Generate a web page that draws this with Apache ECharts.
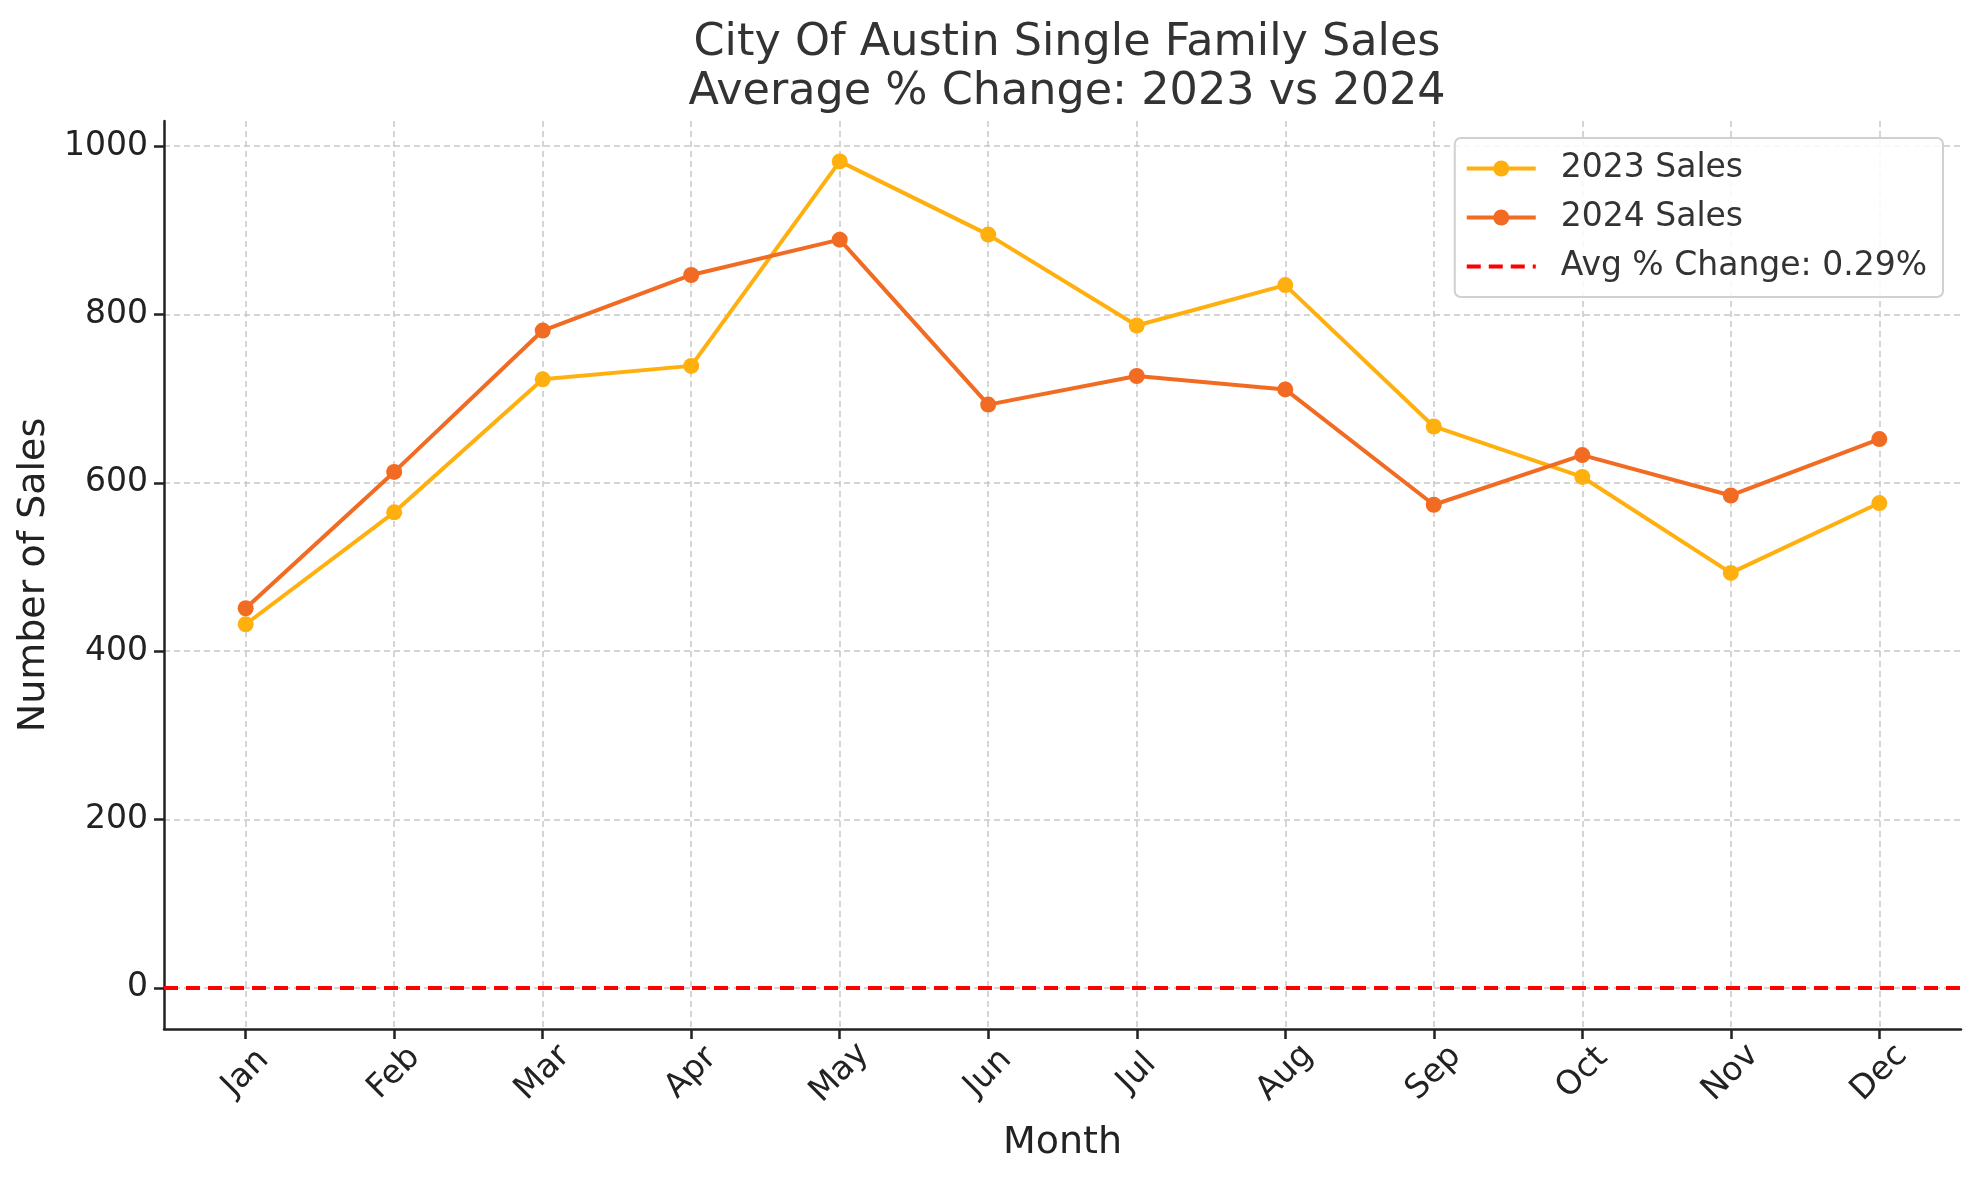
<!DOCTYPE html>
<html>
<head>
<meta charset="utf-8">
<script src="https://cdn.jsdelivr.net/npm/echarts@6/dist/echarts.min.js"></script>
<style>
html,body{margin:0;padding:0;background:#fff;}
#chart{width:1979px;height:1180px;}
</style>
</head>
<body>
<div id="chart"></div>
<script>
const months = ['Jan','Feb','Mar','Apr','May','Jun','Jul','Aug','Sep','Oct','Nov','Dec'];
const sales2023 = [432, 565, 723, 739, 982, 895, 787, 835, 667, 607, 493, 576];
const sales2024 = [451, 613, 781, 847, 889, 693, 727, 711, 574, 633, 585, 652];
const avgChange = 0.29;
const yTicks = [0, 200, 400, 600, 800, 1000];

const font = 'DejaVu Sans';
const c2023 = '#FFB00F';
const c2024 = '#F26B22';
const cAvg = '#FF0000';
const chart = echarts.init(document.getElementById('chart'));
const toPts = arr => arr.map((v, i) => [i, v]);
const monthIdx = months.map((m, i) => i);
const avgName = 'Avg % Change: ' + avgChange + '%';

chart.setOption({
  animation: false,
  backgroundColor: '#fff',
  title: {
    text: 'City Of Austin Single Family Sales\nAverage % Change: 2023 vs 2024',
    left: 1062, top: 14, textAlign: 'center',
    textStyle: {fontFamily: font, fontSize: 44.5, fontWeight: 'normal', color: '#333', lineHeight: 49}
  },
  grid: {left: 164, right: 18, top: 121, bottom: 151, containLabel: false},
  legend: {
    orient: 'vertical', right: 36, top: 138,
    padding: [14, 16, 14, 10],
    itemWidth: 69, itemHeight: 20, itemGap: 16,
    borderColor: '#d0d0d0', borderWidth: 2, borderRadius: 6,
    backgroundColor: 'rgba(255,255,255,0.85)',
    textStyle: {fontFamily: font, fontSize: 33, color: '#333', padding: [0, 0, 0, 20]},
    data: [
      {name: '2023 Sales', lineStyle: {width: 4}},
      {name: '2024 Sales', lineStyle: {width: 4}},
      {name: avgName, itemStyle: {opacity: 0}, lineStyle: {width: 4, type: [14, 8], color: cAvg}}
    ]
  },
  xAxis: {
    type: 'value', min: -0.55, max: months.length - 1 + 0.55,
    name: 'Month', nameLocation: 'middle', nameGap: 95,
    nameTextStyle: {fontFamily: font, fontSize: 38, color: '#222'},
    axisLine: {show: true, onZero: false, lineStyle: {color: '#222', width: 2.5}},
    axisTick: {show: true, length: 10, inside: false, customValues: monthIdx, lineStyle: {color: '#222', width: 2.5}},
    axisLabel: {
      customValues: monthIdx, rotate: 45, align: 'center', verticalAlign: 'middle', margin: 44,
      fontFamily: font, fontSize: 33, color: '#222',
      formatter: v => months[Math.round(v)]
    },
    splitLine: {show: true, lineStyle: {color: '#c8c8c8', width: 1.5, type: [6, 4]}}
  },
  yAxis: {
    type: 'value', min: -49, max: 1030,
    name: 'Number of Sales', nameLocation: 'middle', nameGap: 96, nameRotate: 90,
    nameTextStyle: {fontFamily: font, fontSize: 38, color: '#222'},
    axisLine: {show: true, onZero: false, lineStyle: {color: '#222', width: 2.5}},
    axisTick: {show: true, length: 10, inside: false, customValues: yTicks, lineStyle: {color: '#222', width: 2.5}},
    axisLabel: {customValues: yTicks, margin: 16, fontFamily: font, fontSize: 33, color: '#222', formatter: v => String(v)},
    splitLine: {show: true, lineStyle: {color: '#c8c8c8', width: 1.5, type: [6, 4]}}
  },
  series: [
    {
      name: '2023 Sales', type: 'line', data: toPts(sales2023),
      symbol: 'circle', symbolSize: 16, z: 3,
      itemStyle: {color: c2023},
      lineStyle: {color: c2023, width: 4}
    },
    {
      name: '2024 Sales', type: 'line', data: toPts(sales2024),
      symbol: 'circle', symbolSize: 16, z: 4,
      itemStyle: {color: c2024},
      lineStyle: {color: c2024, width: 4}
    },
    {
      name: avgName, type: 'line', data: [],
      symbol: 'none', itemStyle: {color: cAvg},
      lineStyle: {color: cAvg, width: 4, type: [14, 8]},
      markLine: {
        silent: true, symbol: 'none', label: {show: false},
        lineStyle: {color: cAvg, width: 4, type: [14, 8]},
        data: [{yAxis: avgChange}]
      }
    }
  ]
});
</script>
</body>
</html>
